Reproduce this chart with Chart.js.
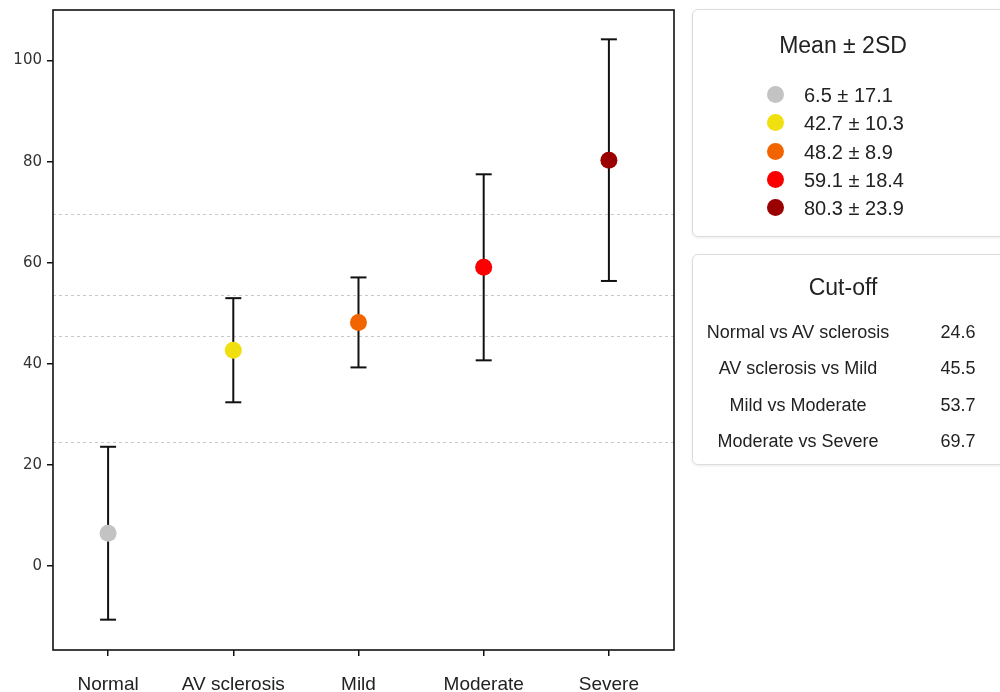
<!DOCTYPE html>
<html>
<head>
<meta charset="utf-8">
<script src="https://cdn.jsdelivr.net/npm/chart.js@4.4.1/dist/chart.umd.min.js"></script>
<style>
    body { margin: 0; background: #fff; font-family: "Liberation Sans", Arial, sans-serif; color: #222; }
    #wrap { position: relative; width: 1000px; height: 692px; overflow: hidden; }
    #chartBox { position: absolute; left: 0; top: 0; width: 690px; height: 692px; }
    .panel {
        position: absolute; left: 692px; width: 340px;
        border: 1px solid #dcdcdc; border-radius: 6px;
        box-shadow: 0 1px 3px rgba(0, 0, 0, 0.08);
        background: #fff;
    }
    #meanPanel { top: 9px; height: 226px; }
    #cutPanel { top: 254px; height: 209px; }
    .title { position: absolute; left: 0; width: 300px; text-align: center; font-size: 23px; line-height: 28px; }
    .row { position: absolute; height: 28px; line-height: 28px; font-size: 20px; }
    .dot { position: absolute; left: 74px; top: 5px; width: 17px; height: 17px; border-radius: 50%; }
    .row .txt { position: absolute; left: 111px; white-space: nowrap; }
    .cutLabel { position: absolute; left: 0; width: 210px; text-align: center; font-size: 18px; line-height: 24px; white-space: nowrap; }
    .cutValue { position: absolute; left: 235px; width: 60px; text-align: center; font-size: 18px; line-height: 24px; }
</style>
</head>
<body>
<div id="wrap">
    <div id="chartBox"><canvas id="errChart"></canvas></div>
    <div class="panel" id="meanPanel">
        <div class="title" style="top: 21px;">Mean ± 2SD</div>
        <div id="meanRows"></div>
    </div>
    <div class="panel" id="cutPanel">
        <div class="title" style="top: 18px;">Cut-off</div>
        <div id="cutRows"></div>
    </div>
</div>
<script>
// --- data ---
const categories = ['Normal', 'AV sclerosis', 'Mild', 'Moderate', 'Severe'];
const means = [6.5, 42.7, 48.2, 59.1, 80.3];
const twoSD = [17.1, 10.3, 8.9, 18.4, 23.9];
const colors = ['#c3c3c3', '#f0e010', '#f26400', '#fa0000', '#9b0000'];
const yTicks = [0, 20, 40, 60, 80, 100];
const cutoffLabels = ['Normal vs AV sclerosis', 'AV sclerosis vs Mild', 'Mild vs Moderate', 'Moderate vs Severe'];
const cutoffValues = [24.6, 45.5, 53.7, 69.7];

// Side panels
const meanRows = document.getElementById('meanRows');
means.forEach((m, i) => {
    const row = document.createElement('div');
    row.className = 'row';
    row.style.top = (71 + i * 28.3) + 'px';
    row.innerHTML = `<span class="dot" style="background:${colors[i]}"></span><span class="txt">${m} ± ${twoSD[i]}</span>`;
    meanRows.appendChild(row);
});

const cutRows = document.getElementById('cutRows');
cutoffLabels.forEach((label, i) => {
    const top = 65 + i * 36.3;
    const l = document.createElement('div');
    l.className = 'cutLabel';
    l.style.top = top + 'px';
    l.textContent = label;
    const v = document.createElement('div');
    v.className = 'cutValue';
    v.style.top = top + 'px';
    v.textContent = cutoffValues[i].toFixed(1);
    cutRows.appendChild(l);
    cutRows.appendChild(v);
});

// Dashed cut-off lines and the black frame round the plot
const framePlugin = {
    id: 'framePlugin',
    beforeDatasetsDraw(chart) {
        const { ctx, chartArea, scales } = chart;
        ctx.save();
        ctx.strokeStyle = '#c8c8c8';
        ctx.lineWidth = 1;
        ctx.setLineDash([3, 3]);
        cutoffValues.forEach(v => {
            const y = Math.round(scales.y.getPixelForValue(v)) + 0.5;
            ctx.beginPath();
            ctx.moveTo(chartArea.left, y);
            ctx.lineTo(chartArea.right, y);
            ctx.stroke();
        });
        ctx.restore();
    },
    afterDraw(chart) {
        const { ctx, chartArea } = chart;
        ctx.save();
        ctx.strokeStyle = '#111';
        ctx.lineWidth = 1.6;
        ctx.strokeRect(chartArea.left, chartArea.top, chartArea.right - chartArea.left, chartArea.bottom - chartArea.top);
        ctx.restore();
    }
};

// Error bars: one line dataset per group, caps drawn as 'line' point style
const errorDatasets = categories.map((c, i) => ({
    type: 'line',
    label: c + ' 2SD',
    data: [{ x: i, y: means[i] - twoSD[i] }, { x: i, y: means[i] + twoSD[i] }],
    borderColor: '#111',
    borderWidth: 2,
    pointStyle: 'line',
    pointRadius: 8,
    pointBorderWidth: 2,
    pointBorderColor: '#111',
    order: 2
}));

const meanDataset = {
    type: 'scatter',
    label: 'Mean',
    data: means.map((m, i) => ({ x: i, y: m })),
    backgroundColor: colors,
    borderWidth: 0,
    pointRadius: 8.5,
    order: 0
};

new Chart(document.getElementById('errChart').getContext('2d'), {
    data: { datasets: [meanDataset, ...errorDatasets] },
    options: {
        responsive: true,
        maintainAspectRatio: false,
        animation: false,
        layout: { padding: { top: 9, right: 16, left: 0, bottom: 0 } },
        plugins: { legend: { display: false }, tooltip: { enabled: false } },
        scales: {
            x: {
                type: 'linear',
                min: -0.44,
                max: 4.52,
                afterBuildTicks: axis => { axis.ticks = categories.map((c, i) => ({ value: i })); },
                afterFit: axis => {
                    axis.height = 42;
                    axis.paddingLeft = 0;
                    axis.paddingRight = 0;
                },
                ticks: {
                    callback: v => categories[v],
                    font: { family: 'Liberation Sans', size: 19 },
                    color: '#222',
                    padding: 17
                },
                grid: { drawOnChartArea: false, drawTicks: true, tickLength: 6, color: '#111', lineWidth: 1.5 },
                border: { display: false }
            },
            y: {
                min: -16.6,
                max: 110,
                afterBuildTicks: axis => { axis.ticks = yTicks.map(v => ({ value: v })); },
                afterFit: axis => {
                    axis.width = 53;
                    axis.paddingTop = 0;
                    axis.paddingBottom = 0;
                },
                ticks: {
                    font: { family: 'DejaVu Sans', size: 15 },
                    color: '#333',
                    padding: 5
                },
                grid: { drawOnChartArea: false, drawTicks: true, tickLength: 6, color: '#111', lineWidth: 1.5 },
                border: { display: false }
            }
        }
    },
    plugins: [framePlugin]
});
</script>
</body>
</html>
